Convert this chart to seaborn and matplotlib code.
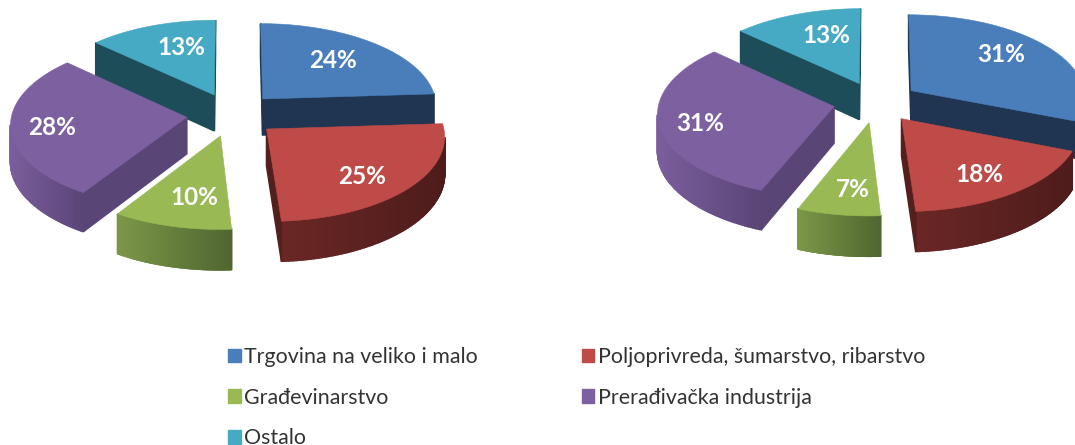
import numpy as np
import seaborn as sns
import matplotlib.pyplot as plt
from matplotlib.colors import to_rgb
from matplotlib.patches import Patch

# data
categories = ['Trgovina na veliko i malo', 'Poljoprivreda, šumarstvo, ribarstvo',
              'Građevinarstvo', 'Prerađivačka industrija', 'Ostalo']
shares_left = [24, 25, 10, 28, 13]
shares_right = [31, 18, 7, 31, 13]

# slice colours: top, cut face, outer wall from light to dark
top_colors = ['#4A7EBB', '#BE4B48', '#98B954', '#7D60A0', '#46AAC4']
cut_colors = ['#1F3552', '#54201E', '#4F6630', '#5A4577', '#1C4D58']
wall_light = ['#2A4A70', '#6A2725', '#7C9748', '#7A5E9C', '#2A6878']
wall_dark = ['#1F3552', '#4E1C1B', '#4F6630', '#5A4577', '#1C4D58']

sns.set_style('white')
plt.rcParams['font.family'] = ['Lato', 'DejaVu Sans']
palette = sns.color_palette(top_colors)

# fake 3d projection of the pie
RX, RY = 175, 83.2
PERSP = 0.075
DEPTH = 36.5


def project(u, v, cx, cy):
    s = 1 / (1 + PERSP * v)
    return cx + RX * u * s, cy - RY * v * s, DEPTH * s


def draw_pie(ax, shares, cx, cy, explode, label_r, label_off):
    shares = np.array(shares, dtype=float)
    edges = np.concatenate([[0], np.cumsum(shares)]) / shares.sum() * 2 * np.pi
    mids = (edges[:-1] + edges[1:]) / 2
    # far slices first
    for i in np.argsort(-np.cos(mids)):
        ox, oy = explode * np.sin(mids[i]), explode * np.cos(mids[i])
        th = np.linspace(edges[i], edges[i + 1], 120)
        us = np.concatenate([[ox], ox + np.sin(th)])
        vs = np.concatenate([[oy], oy + np.cos(th)])
        xs, ys, ds = project(us, vs, cx, cy)
        n = len(xs)
        # walls: each side quad, keep the ones facing the viewer
        for j in range(n):
            k = (j + 1) % n
            quad = np.array([[xs[j], ys[j]], [xs[k], ys[k]],
                             [xs[k], ys[k] + ds[k]], [xs[j], ys[j] + ds[j]]])
            area = np.sum(quad[:, 0] * np.roll(quad[:, 1], -1) - np.roll(quad[:, 0], -1) * quad[:, 1])
            if area >= 0:
                continue
            if j == 0 or j == n - 1:
                col = cut_colors[i]
            else:
                t = (xs[j] - xs[1:].min()) / (xs[1:].max() - xs[1:].min())
                a, b = np.array(to_rgb(wall_light[i])), np.array(to_rgb(wall_dark[i]))
                col = a + (b - a) * t
            ax.fill(quad[:, 0], quad[:, 1], color=col, lw=1.2, zorder=2)
        ax.fill(xs, ys, color=palette[i], lw=0.4, zorder=2)
        lx, ly, _ = project(ox + label_r[i] * np.sin(mids[i]), oy + label_r[i] * np.cos(mids[i]), cx, cy)
        ax.text(lx + label_off[i][0], ly + label_off[i][1], f'{shares[i]:.0f}%', color='white',
                fontsize=17.5, fontweight='bold', ha='center', va='center', zorder=5)


fig = plt.figure(figsize=(10.75, 4.45), dpi=100)
ax = fig.add_axes([0, 0, 1, 1])
ax.set_xlim(0, 1075)
ax.set_ylim(445, 0)
ax.axis('off')

draw_pie(ax, shares_left, 232, 114.5, 0.26, [0.65, 0.75, 0.68, 0.8, 0.6],
         [(-3, -1), (-10, 3), (6, 2), (6, 2), (6, -5)])
draw_pie(ax, shares_right, 876, 102, 0.245, [0.65, 0.72, 0.68, 0.8, 0.6],
         [(0, -7), (-2, 4), (4, 6), (6, 2), (6, -6)])

# legend fills by column, so col 1 = items 0, 2, 4
order = [0, 2, 4, 1, 3]
handles = [Patch(color=palette[i], label=categories[i]) for i in order]
ax.legend(handles=handles, ncol=2, loc='upper left', bbox_to_anchor=(228, 347),
          bbox_transform=ax.transData, frameon=False, fontsize=15.4, handlelength=0.6,
          handleheight=0.6, handletextpad=0.15, columnspacing=4.85, labelspacing=0.97,
          borderpad=0, borderaxespad=0, labelcolor='#333333')

fig.savefig('out.png', dpi=100)
